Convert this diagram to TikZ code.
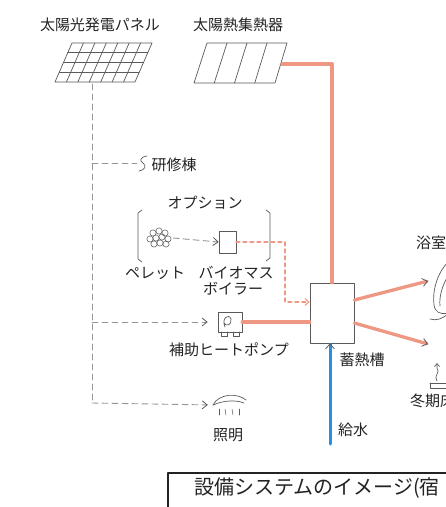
\documentclass[tikz,border=0pt]{standalone}
\usepackage{fontspec}
\setmainfont{Noto Sans CJK JP}
\usetikzlibrary{arrows.meta}

\definecolor{pipered}{RGB}{238,152,132}
\definecolor{waterblue}{RGB}{38,145,228}
\definecolor{wire}{RGB}{150,150,150}
\definecolor{pen}{RGB}{90,90,90}
\definecolor{ink}{RGB}{35,35,35}

\begin{document}
\begin{tikzpicture}[x=1pt, y=-1pt, line join=round, line cap=round,
    font=\fontsize{15}{16}\selectfont,
    lbl/.style={text=ink, inner sep=0pt},
    sketch/.style={draw=pen, line width=0.7pt},
    hotpipe/.style={draw=pipered, line width=3.3pt},
    hotdash/.style={draw=pipered, line width=2.6pt, dash pattern=on 3pt off 4pt},
    coldpipe/.style={draw=waterblue, line width=3pt},
    wiring/.style={draw=wire, line width=0.9pt, dash pattern=on 6pt off 4pt},
    tip/.style={-{Straight Barb[length=5pt, width=8pt, line width=0.8pt, color=pen]}}]

	% Nền trắng và khung hình
	\fill[white] (0,0) rectangle (446,507);
	\useasboundingbox (0,0) rectangle (446,507);

	% Nhãn phía trên
	\node[lbl] (pvlabel) at (100,25) {太陽光発電パネル};
	\node[lbl] (collabel) at (238,25) {太陽熱集熱器};

	% Tấm pin mặt trời (lưới ô)
	\draw[sketch] (55,82) -- (72,43) -- (152,43) -- (135,82) -- cycle;
	\foreach \i in {1,...,6}
		\draw[sketch] ({55+\i*80/7},82) -- ({72+\i*80/7},43);
	\foreach \j in {1,2,3}
		\draw[sketch] ({55+\j*17/4},{82-\j*39/4}) -- ({135+\j*17/4},{82-\j*39/4});
	\coordinate (pvout) at (92,84);

	% Bộ thu nhiệt
	\draw[sketch] (194,83) -- (207,43) -- (287,43) -- (275,83) -- cycle;
	\foreach \i in {1,2,3}
		\draw[sketch] ({194+\i*81/4},83) -- ({207+\i*80/4},43);
	\coordinate (colout) at (282,64);

	% Bồn trữ nhiệt
	\node[sketch, minimum width=44, minimum height=60, inner sep=0pt] (tank) at (332,313) {};
	\node[lbl] (tanklabel) at (362,360) {蓄熱槽};
	\draw[hotpipe] (colout) -| (tank.north);

	% Nước cấp
	\coordinate (inlet) at (330,444);
	\draw[coldpipe, -{Straight Barb[length=5pt, width=9pt, line width=0.8pt, color=pen]}] (inlet) -- (inlet |- tank.south);
	\node[lbl] (inletlabel) at (353,430) {給水};

	% Hai nhánh ra bên phải
	\coordinate (bath) at (428,281);
	\coordinate (floorheat) at (428,344);
	\draw[hotpipe, tip] ([yshift=13pt]tank.east) -- (bath);
	\draw[hotpipe, tip] ([yshift=-10pt]tank.east) -- (floorheat);
	\node[lbl, anchor=west] (bathlabel) at (416,243) {浴室};
	\node[lbl, anchor=west] (floorlabel) at (410,401) {冬期床};

	% Vòi sen
	\draw[sketch] (448,262) .. controls (438,272) and (432,290) .. (434,305)
		.. controls (435,312) and (440,315) .. (448,313);
	\draw[sketch] (448,276) .. controls (442,286) and (439,297) .. (440,306);
	\draw[sketch] (430,319) .. controls (436,321) and (442,319) .. (448,314);

	% Sưởi sàn
	\draw[sketch, -{Straight Barb[length=3pt, width=5pt]}] (437,381)
		.. controls (433,376) and (441,372) .. (437,368) -- (437,363);
	\draw[sketch] (430,383) -- (448,383);
	\draw[sketch] (430,383) -- (430,388) -- (448,388);

	% Nhóm tùy chọn
	\node[lbl] (optlabel) at (205,203) {オプション};
	\draw[sketch] (142,210) -- (138,213) -- (138,259) -- (142,262);
	\draw[sketch] (266,210) -- (270,213) -- (270,258) -- (266,261);

	% Viên nén
	\node[minimum width=26, minimum height=20, inner sep=0pt] (pellet) at (160,238) {};
	\foreach \dx/\dy in {-7/-5, -1/-7, 5/-5, -10/1, -4/0, 2/-1, 8/1, -6/6, 0/5, 6/6}
		\draw[sketch, line width=0.5pt] ({160+\dx},{238+\dy}) circle (3.1);
	\node[lbl] (pelletlabel) at (155,273) {ペレット};

	% Lò hơi sinh khối
	\node[sketch, minimum width=17, minimum height=22, inner sep=0pt] (boiler) at (227.5,242) {};
	\node[lbl] (boilerlabel1) at (236,273) {バイオマス};
	\node[lbl] (boilerlabel2) at (233,289) {ボイラー};
	\draw[wiring, tip] (pellet.east) -- (boiler.west);
	\coordinate (riser) at (285,302);
	\draw[hotdash, -{Straight Barb[length=4pt, width=7pt, line width=1pt, color=pipered]}]
		(boiler.east) -| (riser) -- (riser -| tank.west);

	% Bơm nhiệt phụ
	\node[sketch, minimum width=24, minimum height=20, inner sep=0pt] (hp) at (230,322) {};
	\draw[sketch] (221,332) -- (221,336) -- (227,336) -- (227,332);
	\draw[sketch] (233,332) -- (233,336) -- (239,336) -- (239,332);
	\draw[sketch] (225,327) .. controls (221,318) and (229,313) .. (231,319)
		.. controls (232,325) and (226,327) .. (224,323);
	\node[lbl] (hplabel) at (229,350) {補助ヒートポンプ};
	\draw[hotpipe] (hp.east) -- (hp.east -| tank.west);

	% Chiếu sáng
	\node[minimum width=34, minimum height=18, inner sep=0pt] (lamp) at (229,405) {};
	\draw[sketch] (213,405) .. controls (219,393) and (238,393) .. (246,400);
	\draw[sketch] (213,405) .. controls (224,400) and (237,400) .. (244,403);
	\foreach \rx/\ry in {219/0, 225/1, 232/1, 239/0}
		\draw[sketch, line width=0.5pt] (\rx,409) -- ({\rx+\ry},415);
	\node[lbl] (lamplabel) at (228,435) {照明};

	% Đường điện (nét đứt)
	\coordinate (j1) at (92,163);
	\coordinate (j2) at (92,322);
	\coordinate (j3) at (92,403);
	\draw[wiring] (pvout) -- (j3);
	\draw[wiring] (j1) -- (137,163);
	\draw[sketch] (147,156) .. controls (140,157) and (139,161) .. (143,163)
		.. controls (147,166) and (145,170) .. (139,171);
	\node[lbl] (kenshulabel) at (174,165) {研修棟};
	\draw[wiring, tip, shorten >=10pt] (j2) -- (hp.west);
	\draw[wiring, tip, shorten >=4pt] (j3) -- (lamp.west);

	% Khung chú thích
	\draw[draw=ink, line width=1.1pt] (168,473) rectangle (470,530);
	\node[lbl, anchor=west, font=\fontsize{20}{22}\selectfont] (caption) at (194,488) {設備システムのイメージ(宿};
\end{tikzpicture}
\end{document}
